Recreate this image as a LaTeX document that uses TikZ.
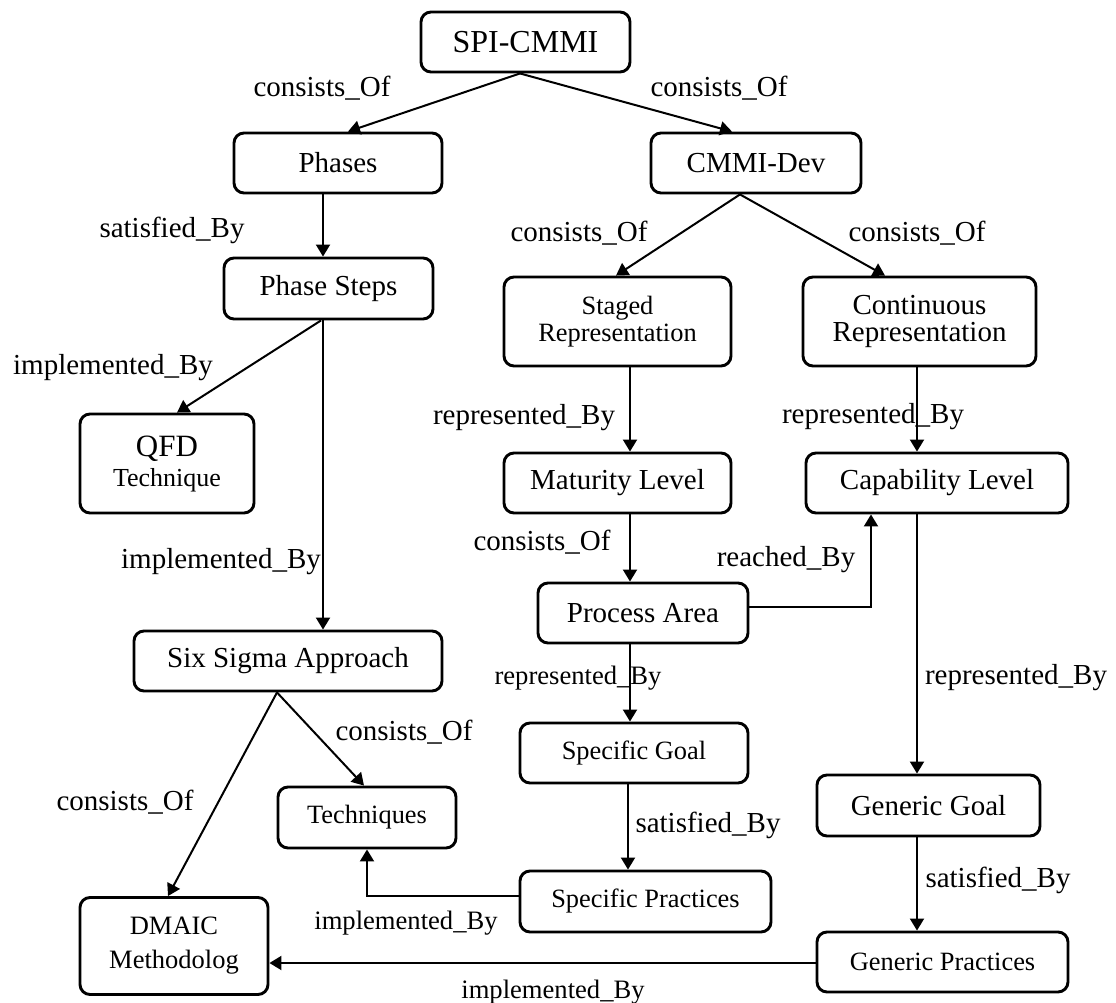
\documentclass[tikz,border=0pt]{standalone}
\usepackage{fontspec}
\setmainfont{Liberation Serif}
\usetikzlibrary{arrows.meta,calc}

\tikzset{
  box/.style={draw,line width=1.45pt,rounded corners=5pt,inner sep=0pt,align=center,font=\fontsize{14.5}{17}\selectfont},
  smallbox/.style={box,font=\fontsize{13.2}{15}\selectfont},
  lab/.style={inner sep=0pt,font=\fontsize{14.5}{17}\selectfont},
  smalllab/.style={lab,font=\fontsize{13.3}{15}\selectfont},
  link/.style={line width=1pt,-{Triangle[length=6pt,width=7pt]}},
}

\begin{document}
\begin{tikzpicture}[x=0.5pt,y=-0.5pt]
\useasboundingbox (0,0) rectangle (1116,1003);
% boxes
\node[box,minimum width=104.5pt,minimum height=30pt,font=\fontsize{16}{19}\selectfont] (spi) at (525.5,42) {SPI-CMMI};
\node[box,minimum width=104pt,minimum height=30pt] (phases) at (338,163) {Phases};
\node[box,minimum width=104.5pt,minimum height=30.5pt] (steps) at (328.5,288.5) {Phase Steps};
\node[smallbox,minimum width=87pt,minimum height=49.5pt,font=\fontsize{13}{15}\selectfont] (qfd) at (167,463.5) {{\fontsize{15.5}{15}\selectfont QFD}\\[0pt]Technique};
\node[box,minimum width=105pt,minimum height=30pt] (cmmidev) at (756,163) {CMMI-Dev};
\node[smallbox,minimum width=113.5pt,minimum height=44.5pt,font=\fontsize{13.2}{13.5}\selectfont] (staged) at (617.5,321.5) {Staged\\Representation};
\node[box,minimum width=116.5pt,minimum height=44.5pt,font=\fontsize{14.5}{15}\selectfont] (cont) at (919.5,321.5) {\raisebox{-1.5pt}{Continuous}\\Representation};
\node[box,minimum width=113.5pt,minimum height=30pt] (maturity) at (617.5,483) {Maturity Level};
\node[box,minimum width=131pt,minimum height=30pt] (capab) at (937,483) {Capability Level};
\node[box,minimum width=105pt,minimum height=30pt] (parea) at (643,613) {Process Area};
\node[smallbox,minimum width=114pt,minimum height=30pt] (sgoal) at (634,753) {Specific Goal};
\node[smallbox,minimum width=125.5pt,minimum height=30.5pt] (spract) at (645.5,901.5) {Specific Practices};
\node[box,minimum width=111.5pt,minimum height=30.5pt] (ggoal) at (928.5,805.5) {Generic Goal};
\node[smallbox,minimum width=125.5pt,minimum height=30pt] (gpract) at (942.5,962) {Generic Practices};
\node[box,minimum width=154pt,minimum height=30pt] (sixsigma) at (288,661) {Six Sigma Approach};
\node[smallbox,minimum width=89pt,minimum height=30.5pt] (techn) at (367,817.5) {Techniques};
\node[smallbox,minimum width=94pt,minimum height=48.5pt,font=\fontsize{13.25}{17}\selectfont] (dmaic) at (174,946) {DMAIC\\Methodolog};

% links
\draw[link] ($(spi.south)+(-5.5,0)$) -- ($(phases.north)+(10,0)$);
\draw[link] ($(spi.south)+(-5.5,0)$) -- ($(cmmidev.north)+(-24,0)$);
\draw[link] ($(phases.south)+(-15,0)$) -- ($(steps.north)+(-5.5,0)$);
\draw[link] ($(steps.south)+(-7.5,0)$) -- ($(qfd.north)+(10,0)$);
\draw[link] ($(steps.south)+(-5.5,0)$) -- ($(sixsigma.north)+(35,0)$);
\draw[link] ($(cmmidev.south)+(-16,0)$) -- ($(staged.north)+(-1.5,0)$);
\draw[link] ($(cmmidev.south)+(-16,0)$) -- ($(cont.north)+(-34.5,0)$);
\draw[link] ($(staged.south)+(12.5,0)$) -- ($(maturity.north)+(12.5,0)$);
\draw[link] ($(cont.south)+(-2.5,0)$) -- ($(capab.north)+(-20,0)$);
\draw[link] ($(maturity.south)+(12.5,0)$) -- ($(parea.north)+(-13,0)$);
\draw[link] ($(parea.east)+(0,-6)$) -| ($(capab.south)+(-66,0)$);
\draw[link] ($(parea.south)+(-13,0)$) -- ($(sgoal.north)+(-4,0)$);
\draw[link] ($(sgoal.south)+(-6,0)$) -- ($(spract.north)+(-17.5,0)$);
\draw[link] ($(capab.south)+(-20,0)$) -- ($(ggoal.north)+(-11.5,0)$);
\draw[link] ($(ggoal.south)+(-11.5,0)$) -- ($(gpract.north)+(-25.5,0)$);
\draw[link] ($(gpract.west)+(0,1)$) -- ($(dmaic.east)+(0,17)$);
\draw[link] ($(spract.west)+(0,-5.5)$) -| (techn.south);
\draw[link] ($(sixsigma.south)+(-11,0)$) -- ($(dmaic.north)+(-6,0)$);
\draw[link] ($(sixsigma.south)+(-11,0)$) -- ($(techn.north)+(-3,0)$);

% labels
\node[lab] (l1) at (322,88) {consists\_Of};
\node[lab] (l2) at (719,88) {consists\_Of};
\node[lab] (l3) at (172,230) {satisfied\_By};
\node[lab] (l4) at (579,233) {consists\_Of};
\node[lab] (l5) at (917,233) {consists\_Of};
\node[lab] (l6) at (113,368) {implemented\_By};
\node[lab] (l7) at (524,418) {represented\_By};
\node[lab] (l8) at (873,417) {represented\_By};
\node[lab] (l9) at (542,542) {consists\_Of};
\node[lab] (l10) at (786,560) {reached\_By};
\node[lab] (l11) at (221,562) {implemented\_By};
\node[smalllab] (l12) at (578,678) {represented\_By};
\node[lab] (l13) at (1016,678) {represented\_By};
\node[lab] (l14) at (404,732) {consists\_Of};
\node[lab] (l15) at (125,802) {consists\_Of};
\node[lab] (l16) at (708,825) {satisfied\_By};
\node[lab] (l17) at (998,880) {satisfied\_By};
\node[smalllab] (l18) at (406,923) {implemented\_By};
\node[smalllab] (l19) at (553,992) {implemented\_By};
\end{tikzpicture}
\end{document}
